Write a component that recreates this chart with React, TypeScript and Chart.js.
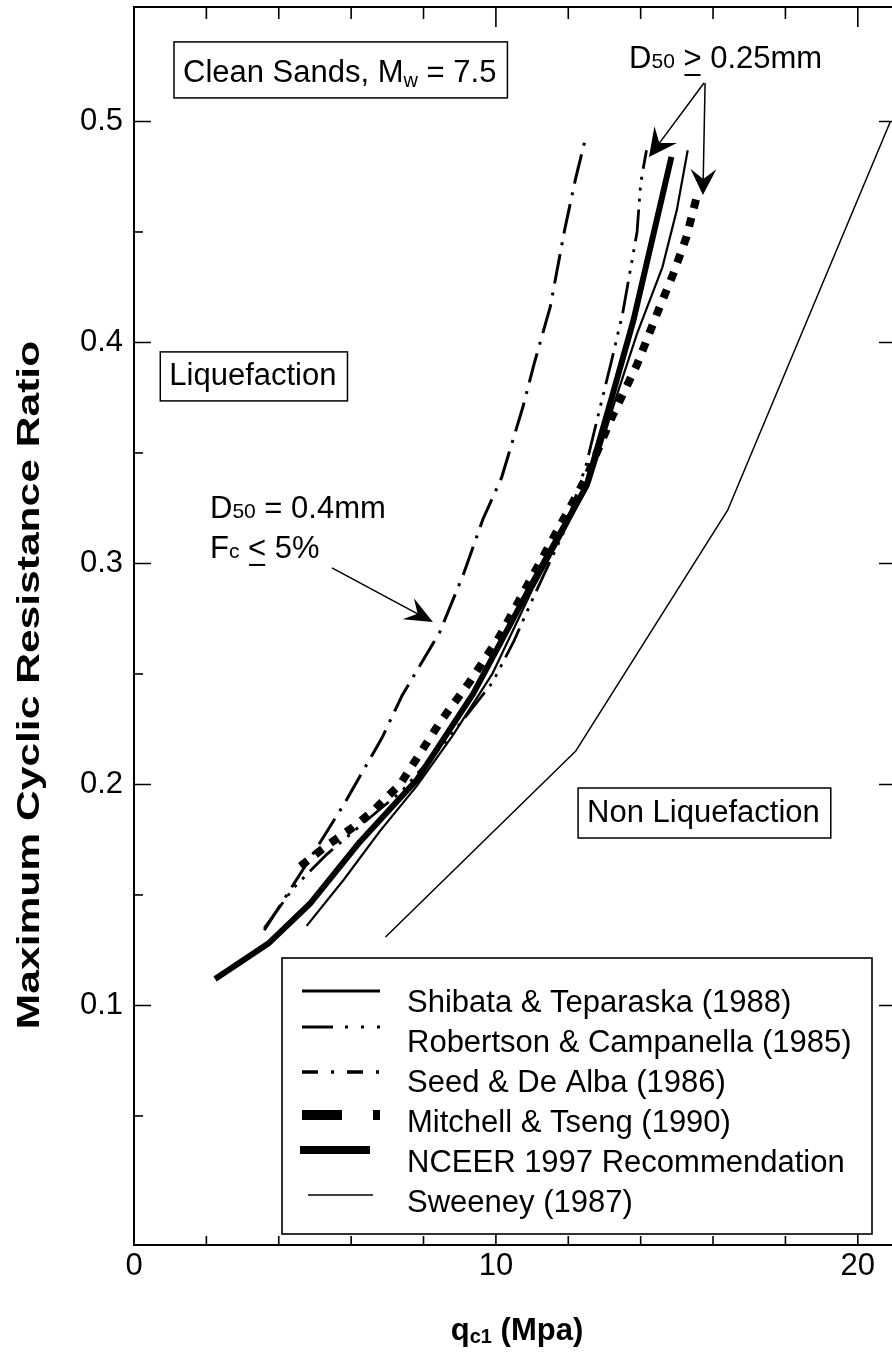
import React, { useEffect, useRef } from "react";
import { Chart, registerables } from "chart.js";

Chart.register(...registerables);

const FONT = '"Liberation Sans", Arial, Helvetica, sans-serif';

// ---- tick values ----
const xTickLabels = [0, 10, 20];
const xMinorTicks = [2, 4, 6, 8, 12, 14, 16, 18];
const yTickLabels = [0.1, 0.2, 0.3, 0.4, 0.5];
const yMinorTicks = [0.05, 0.15, 0.25, 0.35, 0.45];

// ---- series names ----
const seriesNames = [
  "Shibata & Teparaska (1988)",
  "Robertson & Campanella (1985)",
  "Seed & De Alba (1986)",
  "Mitchell & Tseng (1990)",
  "NCEER 1997 Recommendation",
  "Sweeney (1987)",
];

// ---- series values (qc1 in MPa, cyclic resistance ratio) ----
const shibataQ = [4.77, 5.8, 6.8, 7.8, 8.8, 9.9, 11.0, 11.9, 12.6, 13.3, 13.9, 14.6, 15.0, 15.3];
const shibataCRR = [0.136, 0.157, 0.179, 0.199, 0.222, 0.25, 0.288, 0.315, 0.337, 0.374, 0.404, 0.434, 0.46, 0.487];

const robertsonQ = [3.6, 4.4, 5.3, 6.3, 7.4, 8.6, 9.9, 10.5, 11.1, 11.9, 12.5, 12.9, 13.2, 13.5, 13.9, 14.0, 14.16];
const robertsonCRR = [0.135, 0.153, 0.168, 0.182, 0.197, 0.219, 0.246, 0.265, 0.287, 0.315, 0.345, 0.372, 0.392, 0.413, 0.45, 0.472, 0.487];

const seedQ = [3.6, 4.3, 5.0, 5.8, 6.85, 7.4, 8.45, 9.1, 9.64, 10.16, 10.75, 11.05, 11.5, 11.9, 12.2, 12.5];
const seedCRR = [0.134, 0.152, 0.17, 0.191, 0.221, 0.24, 0.269, 0.295, 0.32, 0.339, 0.371, 0.39, 0.416, 0.451, 0.474, 0.494];

const mitchellQ = [4.6, 5.3, 6.0, 6.6, 7.35, 7.9, 8.45, 9.3, 10.1, 11.0, 11.8, 12.5, 13.2, 13.9, 14.5, 14.9, 15.27, 15.55];
const mitchellCRR = [0.163, 0.172, 0.18, 0.188, 0.2, 0.214, 0.228, 0.247, 0.267, 0.294, 0.318, 0.339, 0.366, 0.39, 0.415, 0.431, 0.448, 0.466];

const nceerQ = [2.24, 3.71, 4.86, 6.24, 7.81, 9.37, 11.0, 12.5, 13.2, 13.8, 14.85];
const nceerCRR = [0.112, 0.128, 0.146, 0.174, 0.202, 0.241, 0.291, 0.335, 0.375, 0.41, 0.484];

const sweeneyQ = [6.95, 12.2, 16.4, 20.9];
const sweeneyCRR = [0.131, 0.215, 0.324, 0.5];

const pts = (xs: number[], ys: number[]) => xs.map((v, i) => ({ x: v, y: ys[i] }));

type Run = { t: string; size?: number; dy?: number; under?: boolean };

function drawRuns(ctx: CanvasRenderingContext2D, runs: Run[], x: number, y: number, base: number, bold = false) {
  let cx = x;
  ctx.textAlign = "left";
  ctx.textBaseline = "alphabetic";
  for (const r of runs) {
    const s = r.size ?? base;
    ctx.font = `${bold ? "bold " : ""}${s}px ${FONT}`;
    ctx.fillText(r.t, cx, y + (r.dy ?? 0));
    const w = ctx.measureText(r.t).width;
    if (r.under) ctx.fillRect(cx + 1, y + 6, w - 2, 2);
    cx += w;
  }
  return cx - x;
}

function arrow(ctx: CanvasRenderingContext2D, x0: number, y0: number, x1: number, y1: number, len: number, half: number) {
  const a = Math.atan2(y1 - y0, x1 - x0);
  const c = Math.cos(a), s = Math.sin(a);
  const nx = x1 - c * len * 0.62, ny = y1 - s * len * 0.62;
  const bx = x1 - c * len, by = y1 - s * len;
  ctx.beginPath();
  ctx.moveTo(x0, y0);
  ctx.lineTo(nx, ny);
  ctx.stroke();
  ctx.beginPath();
  ctx.moveTo(x1, y1);
  ctx.lineTo(bx - s * half, by + c * half);
  ctx.lineTo(nx, ny);
  ctx.lineTo(bx + s * half, by - c * half);
  ctx.closePath();
  ctx.fill();
}

const overlay = {
  id: "overlay",
  afterDraw(chart: any) {
    const { ctx, chartArea: a } = chart;
    const xs = chart.scales.x, ys = chart.scales.y;
    const P = (xv: number, yv: number) => [xs.getPixelForValue(xv), ys.getPixelForValue(yv)];
    ctx.save();
    ctx.fillStyle = "#000";
    ctx.strokeStyle = "#000";

    // frame
    ctx.lineWidth = 2;
    ctx.strokeRect(a.left, a.top, a.right - a.left, a.bottom - a.top);

    // x ticks (inward)
    ctx.lineWidth = 1.6;
    const xAll = [...xMinorTicks.map((v) => [v, 0]), ...xTickLabels.filter((v) => v > 0).map((v) => [v, 1])];
    for (const [v, major] of xAll) {
      const px = xs.getPixelForValue(v);
      ctx.beginPath();
      ctx.moveTo(px, a.bottom);
      ctx.lineTo(px, a.bottom - (major ? 18 : 9));
      ctx.moveTo(px, a.top);
      ctx.lineTo(px, a.top + (major ? 20 : 12));
      ctx.stroke();
    }
    // y ticks (inward); right side only at labelled values
    const yAll = [...yMinorTicks.map((v) => [v, 0]), ...yTickLabels.map((v) => [v, 1])];
    for (const [v, major] of yAll) {
      const py = ys.getPixelForValue(v);
      ctx.beginPath();
      ctx.moveTo(a.left, py);
      ctx.lineTo(a.left + (major ? 17 : 9), py);
      if (major) {
        ctx.moveTo(a.right, py);
        ctx.lineTo(a.right - 15, py);
      }
      ctx.stroke();
    }

    // axis titles
    ctx.fillStyle = "#000";
    {
      const runs: Run[] = [{ t: "q" }, { t: "c1", size: 20, dy: 3 }, { t: " (Mpa)" }];
      let w = 0;
      for (const r of runs) {
        ctx.font = `bold ${r.size ?? 31}px ${FONT}`;
        w += ctx.measureText(r.t).width;
      }
      const cx = (a.left + a.right) / 2 + 3;
      drawRuns(ctx, runs, cx - w / 2, 1340, 31, true);
    }
    {
      ctx.save();
      ctx.translate(39, 685);
      ctx.rotate(-Math.PI / 2);
      ctx.scale(1.33, 1);
      ctx.font = `bold 32px ${FONT}`;
      ctx.textAlign = "center";
      ctx.textBaseline = "alphabetic";
      ctx.fillText("Maximum Cyclic Resistance Ratio", 0, 0);
      ctx.restore();
    }

    // boxed labels
    const boxed = (runs: Run[], xv: number, yv: number, top: number) => {
      const [tx, ty] = P(xv, yv);
      let w = 0;
      for (const r of runs) {
        ctx.font = `${r.size ?? 31}px ${FONT}`;
        w += ctx.measureText(r.t).width;
      }
      ctx.fillStyle = "#fff";
      ctx.fillRect(tx - 9, ty - top, w + 20, top + 16);
      ctx.fillStyle = "#000";
      ctx.lineWidth = 1.5;
      ctx.strokeRect(tx - 9, ty - top, w + 20, top + 16);
      drawRuns(ctx, runs, tx, ty, 31);
    };
    boxed([{ t: "Clean Sands, M" }, { t: "w", size: 20, dy: 5 }, { t: " = 7.5" }], 1.354, 0.5179, 40);
    boxed([{ t: "Liquefaction" }], 0.975, 0.3808, 33);
    boxed([{ t: "Non Liquefaction" }], 12.52, 0.183, 34);

    // free annotations
    {
      const [tx, ty] = P(13.68, 0.5242);
      drawRuns(ctx, [{ t: "D" }, { t: "50", size: 21 }, { t: " " }, { t: ">", under: true }, { t: " 0.25mm" }], tx, ty, 31);
    }
    {
      const [tx, ty] = P(2.1, 0.3206);
      drawRuns(ctx, [{ t: "D" }, { t: "50", size: 21 }, { t: " = 0.4mm" }], tx, ty, 31);
      const [tx2, ty2] = P(2.1, 0.3025);
      drawRuns(ctx, [{ t: "F" }, { t: "c", size: 21 }, { t: " " }, { t: "<", under: true }, { t: " 5%" }], tx2, ty2, 31);
    }
    ctx.lineWidth = 1.5;
    {
      const [x0, y0] = P(15.75, 0.5174);
      const [x1, y1] = P(14.23, 0.4839);
      arrow(ctx, x0, y0, x1, y1, 28, 14);
      const [x2, y2] = P(15.78, 0.5174);
      const [x3, y3] = P(15.72, 0.4667);
      arrow(ctx, x2, y2, x3, y3, 26, 13);
      const [x4, y4] = P(5.47, 0.298);
      const [x5, y5] = P(8.26, 0.2735);
      arrow(ctx, x4, y4, x5, y5, 28, 12);
    }

    // legend
    {
      const L = 282, T = 958, R = 872, B = 1234;
      ctx.fillStyle = "#fff";
      ctx.fillRect(L, T, R - L, B - T);
      ctx.fillStyle = "#000";
      ctx.lineWidth = 1.6;
      ctx.strokeRect(L, T, R - L, B - T);
      const baselines = [1012, 1052, 1092, 1132, 1172, 1212];
      const sampleY = [991, 1027, 1072, 1115, 1150, 1195];
      const samples = [
        { w: 3, dash: [] as number[], x0: 302, x1: 380 },
        { w: 3, dash: [31, 12, 3, 13, 3, 13, 3, 40], x0: 302, x1: 381 },
        { w: 3.5, dash: [16, 13, 3, 13, 16, 13, 3, 40], x0: 302, x1: 381 },
        { w: 10, dash: [40, 31, 7, 40], x0: 302, x1: 380 },
        { w: 8, dash: [] as number[], x0: 300, x1: 370 },
        { w: 1.5, dash: [] as number[], x0: 308, x1: 373 },
      ];
      const names = chart.data.datasets.map((d: any) => d.label);
      for (let i = 0; i < names.length; i++) {
        const s = samples[i];
        ctx.save();
        ctx.lineWidth = s.w;
        ctx.lineCap = "butt";
        ctx.setLineDash(s.dash);
        ctx.beginPath();
        ctx.moveTo(s.x0, sampleY[i]);
        ctx.lineTo(s.x1, sampleY[i]);
        ctx.stroke();
        ctx.restore();
        ctx.font = `31px ${FONT}`;
        ctx.textAlign = "left";
        ctx.textBaseline = "alphabetic";
        ctx.fillText(names[i], 407, baselines[i]);
      }
    }
    ctx.restore();
  },
};

export default function App() {
  const ref = useRef<HTMLCanvasElement | null>(null);
  useEffect(() => {
    if (!ref.current) return;
    const line = (label: string, data: any[], width: number, dash: number[], order: number) => ({
      label,
      data,
      borderColor: "#000",
      backgroundColor: "#000",
      borderWidth: width,
      borderDash: dash,
      borderCapStyle: "butt",
      borderJoinStyle: "round",
      pointRadius: 0,
      tension: 0,
      fill: false,
      order,
    });
    const chart = new Chart(ref.current, {
      type: "line",
      data: {
        datasets: [
          line(seriesNames[0], pts(shibataQ, shibataCRR), 2.2, [], 2),
          line(seriesNames[1], pts(robertsonQ, robertsonCRR), 2.8, [32, 8, 3, 8, 3, 8, 3, 8], 2),
          line(seriesNames[2], pts(seedQ, seedCRR), 3, [30, 9, 3, 9], 2),
          line(seriesNames[3], pts(mitchellQ, mitchellCRR), 8, [9, 10], 1),
          line(seriesNames[4], pts(nceerQ, nceerCRR), 6, [], 0),
          line(seriesNames[5], pts(sweeneyQ, sweeneyCRR), 1.5, [], 3),
        ] as any,
      },
      options: {
        animation: false,
        responsive: false,
        devicePixelRatio: 1,
        layout: { padding: { left: 0, right: 6, top: 7, bottom: 0 } },
        plugins: { legend: { display: false }, tooltip: { enabled: false } },
        scales: {
          x: {
            type: "linear",
            min: 0,
            max: 21,
            afterBuildTicks: (s: any) => {
              s.ticks = xTickLabels.map((v) => ({ value: v }));
            },
            afterFit: (s: any) => {
              s.height = 108;
              s.paddingLeft = 0;
              s.paddingRight = 0;
              s.paddingTop = 0;
              s.paddingBottom = 0;
            },
            ticks: {
              font: { family: FONT, size: 31 },
              color: "#000",
              padding: 3,
              maxRotation: 0,
              autoSkip: false,
              callback: (v: any) => String(v),
            },
            grid: { display: false, drawTicks: false },
            border: { display: false },
          },
          y: {
            type: "linear",
            min: -0.0084,
            max: 0.5518,
            afterBuildTicks: (s: any) => {
              s.ticks = yTickLabels.map((v) => ({ value: v }));
            },
            afterFit: (s: any) => {
              s.width = 134;
              s.paddingLeft = 0;
              s.paddingRight = 0;
              s.paddingTop = 0;
              s.paddingBottom = 0;
            },
            ticks: {
              font: { family: FONT, size: 31 },
              color: "#000",
              padding: 11,
              autoSkip: false,
              callback: (v: any) => Number(v).toFixed(1),
            },
            grid: { display: false, drawTicks: false },
            border: { display: false },
          },
        },
      } as any,
      plugins: [overlay],
    });
    return () => chart.destroy();
  }, []);
  return (
    <div style={{ position: "absolute", left: 0, top: 0, width: 892, height: 1353, overflow: "hidden", background: "#fff" }}>
      <canvas ref={ref} width={900} height={1353} style={{ display: "block", width: 900, height: 1353 }} />
    </div>
  );
}
